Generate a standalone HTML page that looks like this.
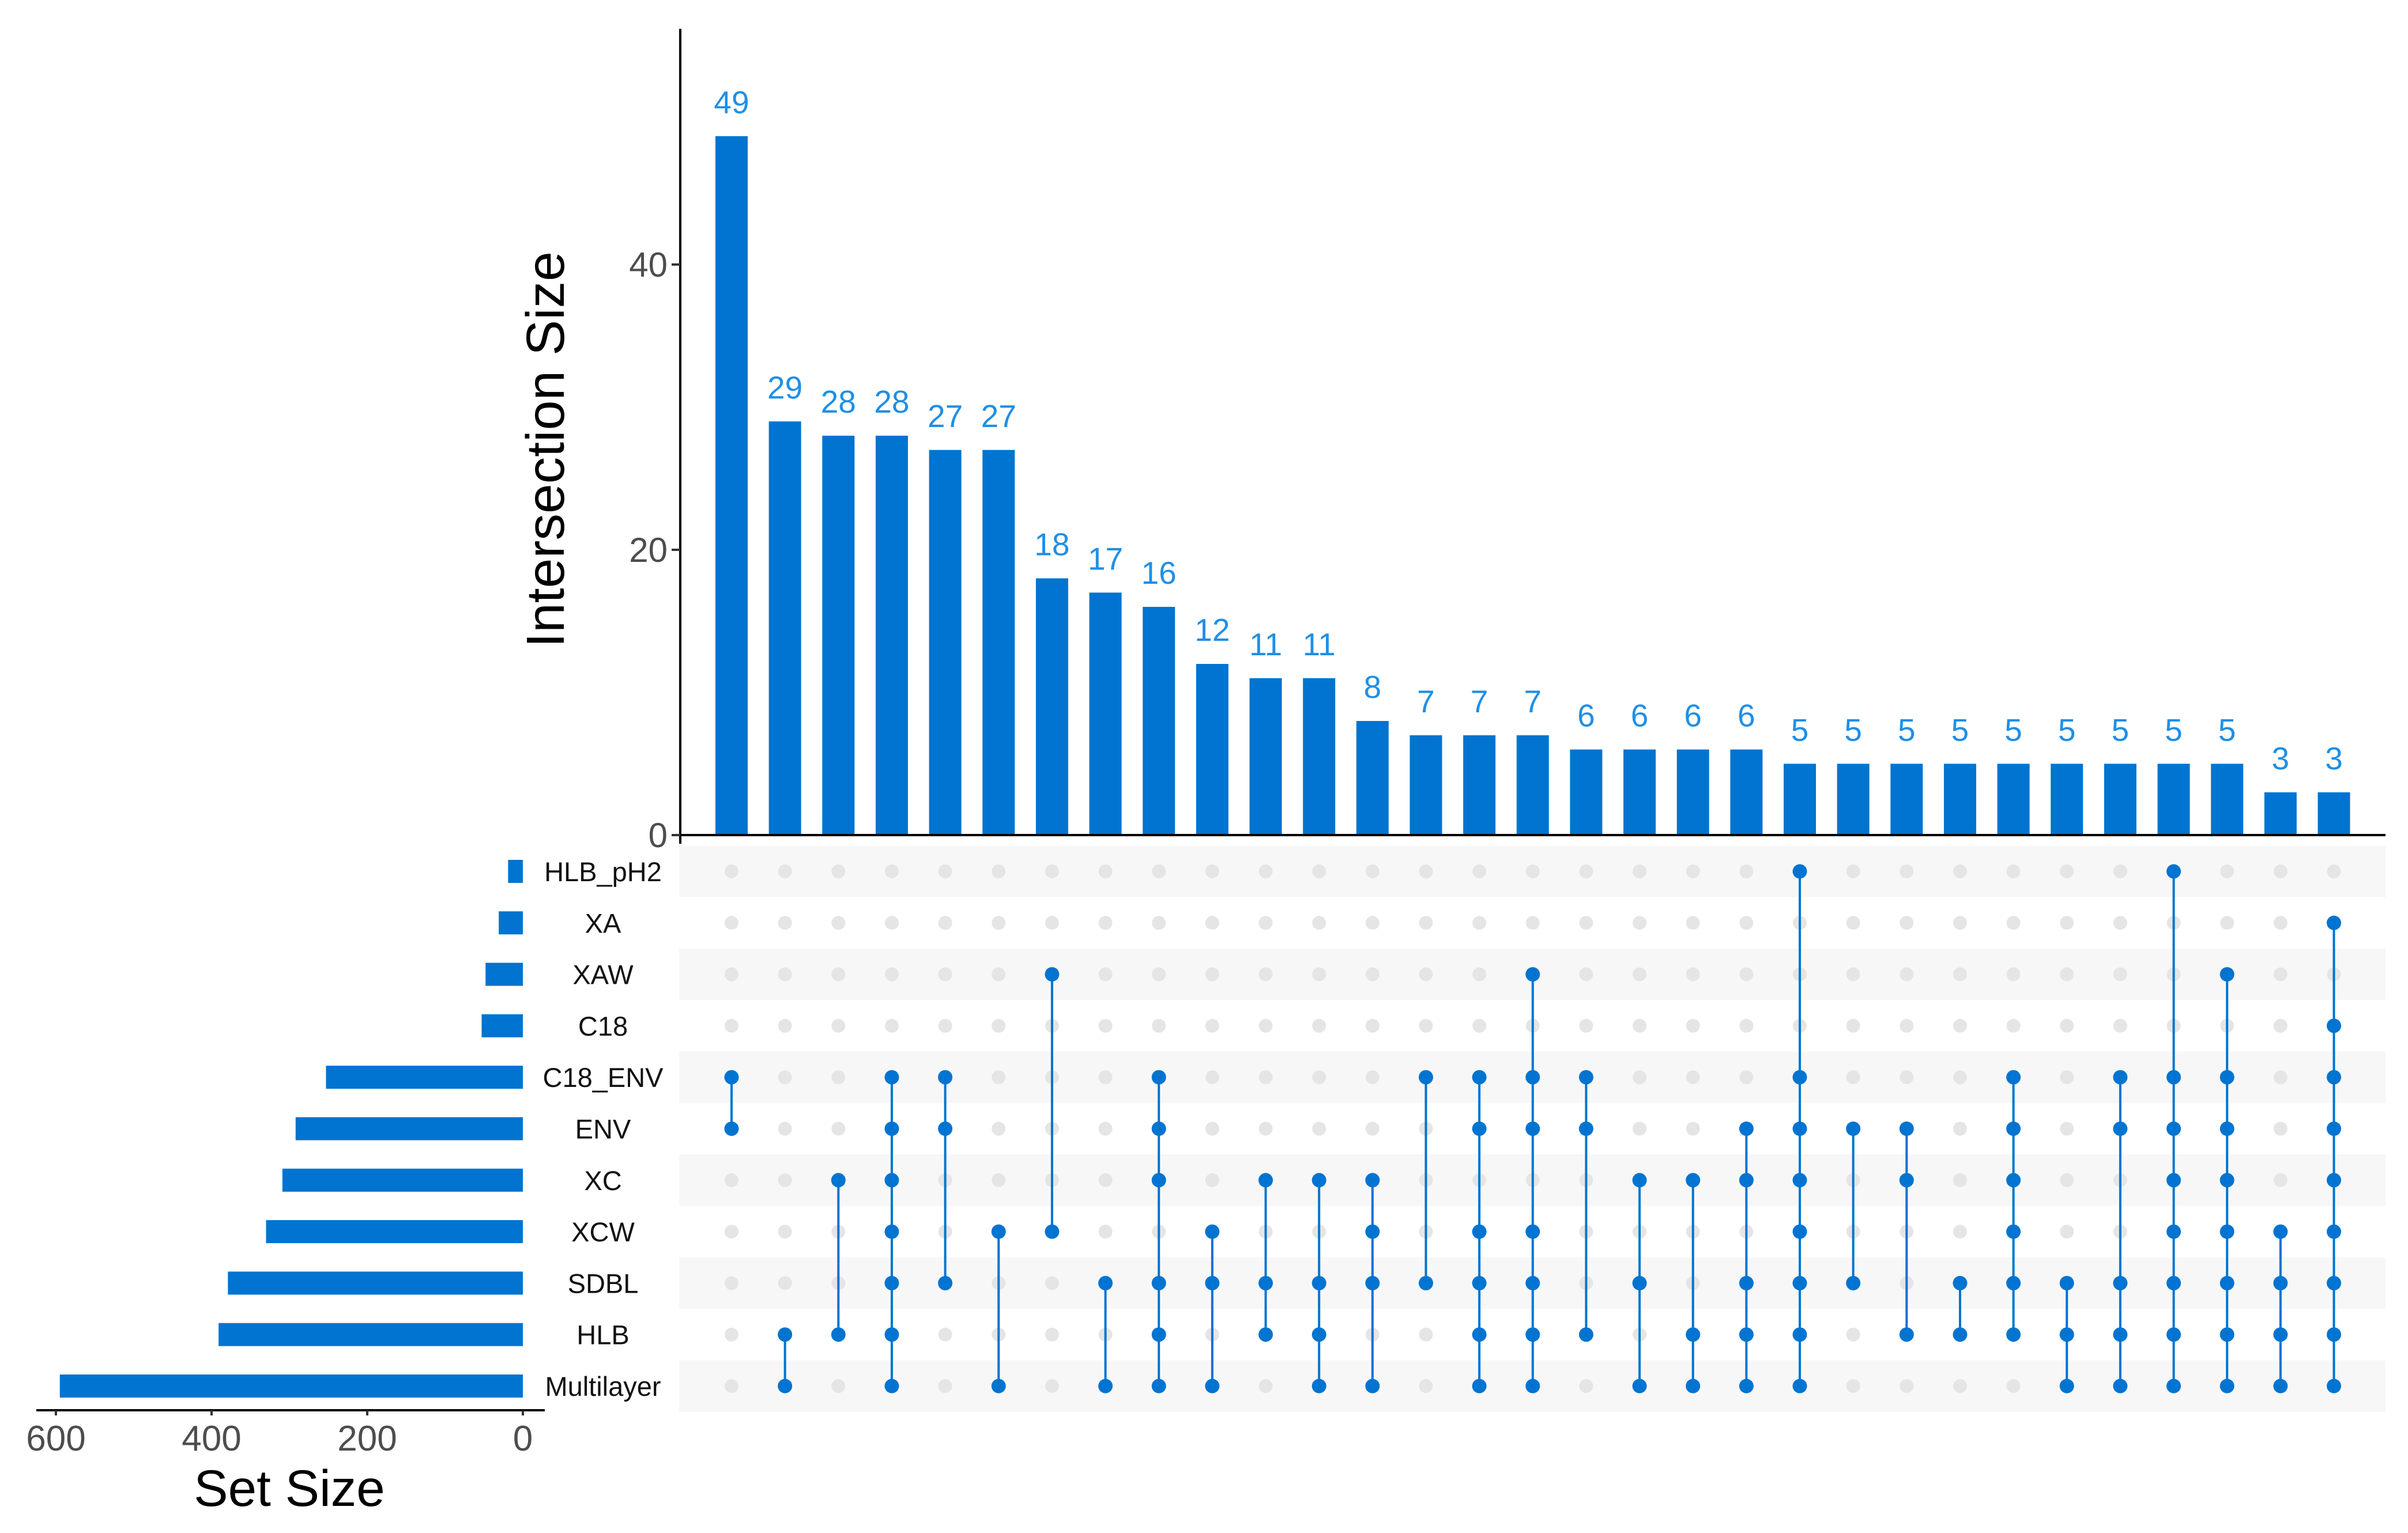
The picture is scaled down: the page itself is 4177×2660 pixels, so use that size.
<!DOCTYPE html>
<html><head><meta charset="utf-8"><style>
html,body{margin:0;padding:0;background:#fff;}
svg{display:block;font-family:"Liberation Sans",Arial,sans-serif;}
</style></head><body>
<svg id="chart" width="4177" height="2660" viewBox="0 0 4177 2660" xmlns="http://www.w3.org/2000/svg">
<g id="bands"></g>
<g id="bars"></g>
<g id="matrix"></g>
<g id="sets"></g>
<g id="axes"></g>
<text transform="translate(978,780) rotate(-90)" text-anchor="middle" font-size="93" fill="#000">Intersection Size</text>
<text x="502" y="2613" text-anchor="middle" font-size="89" fill="#000">Set Size</text>
</svg>
<script>
const setNames = ["HLB_pH2","XA","XAW","C18","C18_ENV","ENV","XC","XCW","SDBL","HLB","Multilayer"];
const setSizes = [19,31,48,53,253,292,309,330,379,391,595];
const intersectionSizes = [49,29,28,28,27,27,18,17,16,12,11,11,8,7,7,7,6,6,6,6,5,5,5,5,5,5,5,5,5,3,3];
const intersectionSets = [
 [4,5],[9,10],[6,9],[4,5,6,7,8,9,10],[4,5,8],[7,10],[2,7],[8,10],[4,5,6,8,9,10],[7,8,10],
 [6,8,9],[6,8,9,10],[6,7,8,10],[4,8],[4,5,7,8,9,10],[2,4,5,7,8,9,10],[4,5,9],[6,8,10],[6,9,10],[5,6,8,9,10],
 [0,4,5,6,7,8,9,10],[5,8],[5,6,9],[8,9],[4,5,6,7,8,9],[8,9,10],[4,5,8,9,10],[0,4,5,6,7,8,9,10],[2,4,5,6,7,8,9,10],[7,8,9,10],
 [1,3,4,5,6,7,8,9,10]
];
const yTicks = [0,20,40];
const setTicks = [600,400,200,0];

const NS="http://www.w3.org/2000/svg";
const BLUE="#0074D0", LBL="#1f8fe6";
function mk(tag,parent,attrs){const e=document.createElementNS(NS,tag);for(const k in attrs)e.setAttribute(k,attrs[k]);parent.appendChild(e);return e;}
const colX = i => 1269 + i*92.65;
const yScale = v => 1449 - v*24.75;
const rowY = r => 1512 + r*89.3;
const setX = v => 907 - v*1.35;

const gB=document.getElementById('bands'), gBars=document.getElementById('bars'),
      gM=document.getElementById('matrix'), gS=document.getElementById('sets'), gA=document.getElementById('axes');

setNames.forEach((n,r)=>{
  if(r%2===0){
    const b=mk('rect',gB,{x:1178,y:rowY(r)-44.65,width:2960,height:89.3,fill:"#f7f7f7"});
    
    
  }
});

intersectionSizes.forEach((v,i)=>{
  const x=colX(i);
  const r=mk('rect',gBars,{x:x-28,y:yScale(v),width:56,height:yScale(0)-yScale(v),fill:BLUE});
  
  
  const t=mk('text',gBars,{x:x,y:yScale(v)-40,'text-anchor':'middle','font-size':55,fill:LBL});
  
  
  t.textContent=v;
});

intersectionSets.forEach((sets,i)=>{
  const x=colX(i);
  for(let r=0;r<setNames.length;r++){
    if(sets.indexOf(r)<0){
      const c=mk('circle',gM,{cx:x,cy:rowY(r),r:12,fill:"#e5e5e5"});
      
      
    }
  }
  const mn=Math.min(...sets), mx=Math.max(...sets);
  if(mx>mn){
    const l=mk('line',gM,{x1:x,x2:x,y1:rowY(mn),y2:rowY(mx),stroke:BLUE,'stroke-width':4});
    
    
  }
  sets.forEach(r=>{
    const c=mk('circle',gM,{cx:x,cy:rowY(r),r:12.5,fill:BLUE});
    
    
  });
});

setSizes.forEach((v,r)=>{
  const y=rowY(r);
  const b=mk('rect',gS,{x:setX(v),y:y-20,width:setX(0)-setX(v),height:40,fill:BLUE});
  
  
  const t=mk('text',gS,{x:1046,y:y+17,'text-anchor':'middle','font-size':47,fill:"#111"});
  
  
  t.textContent=setNames[r];
});

let a=mk('line',gA,{x1:1180,x2:1180,y1:50,y2:1464,stroke:"#000",'stroke-width':4});


a=mk('line',gA,{x1:1165,x2:4138,y1:1449,y2:1449,stroke:"#000",'stroke-width':4});


yTicks.forEach(v=>{
  const y=yScale(v);
  const tk=mk('line',gA,{x1:1165,x2:1180,y1:y,y2:y,stroke:"#333",'stroke-width':4});
  
  
  const t=mk('text',gA,{x:1158,y:y+21,'text-anchor':'end','font-size':60,fill:"#4d4d4d"});
  
  
  t.textContent=v;
});
a=mk('line',gA,{x1:63,x2:945,y1:2447,y2:2447,stroke:"#000",'stroke-width':4});


setTicks.forEach(v=>{
  const x=setX(v);
  const tk=mk('line',gA,{x1:x,x2:x,y1:2447,y2:2456,stroke:"#333",'stroke-width':4});
  
  
  const t=mk('text',gA,{x:x,y:2517,'text-anchor':'middle','font-size':62,fill:"#4d4d4d"});
  
  
  t.textContent=v;
});
</script>
</body></html>
